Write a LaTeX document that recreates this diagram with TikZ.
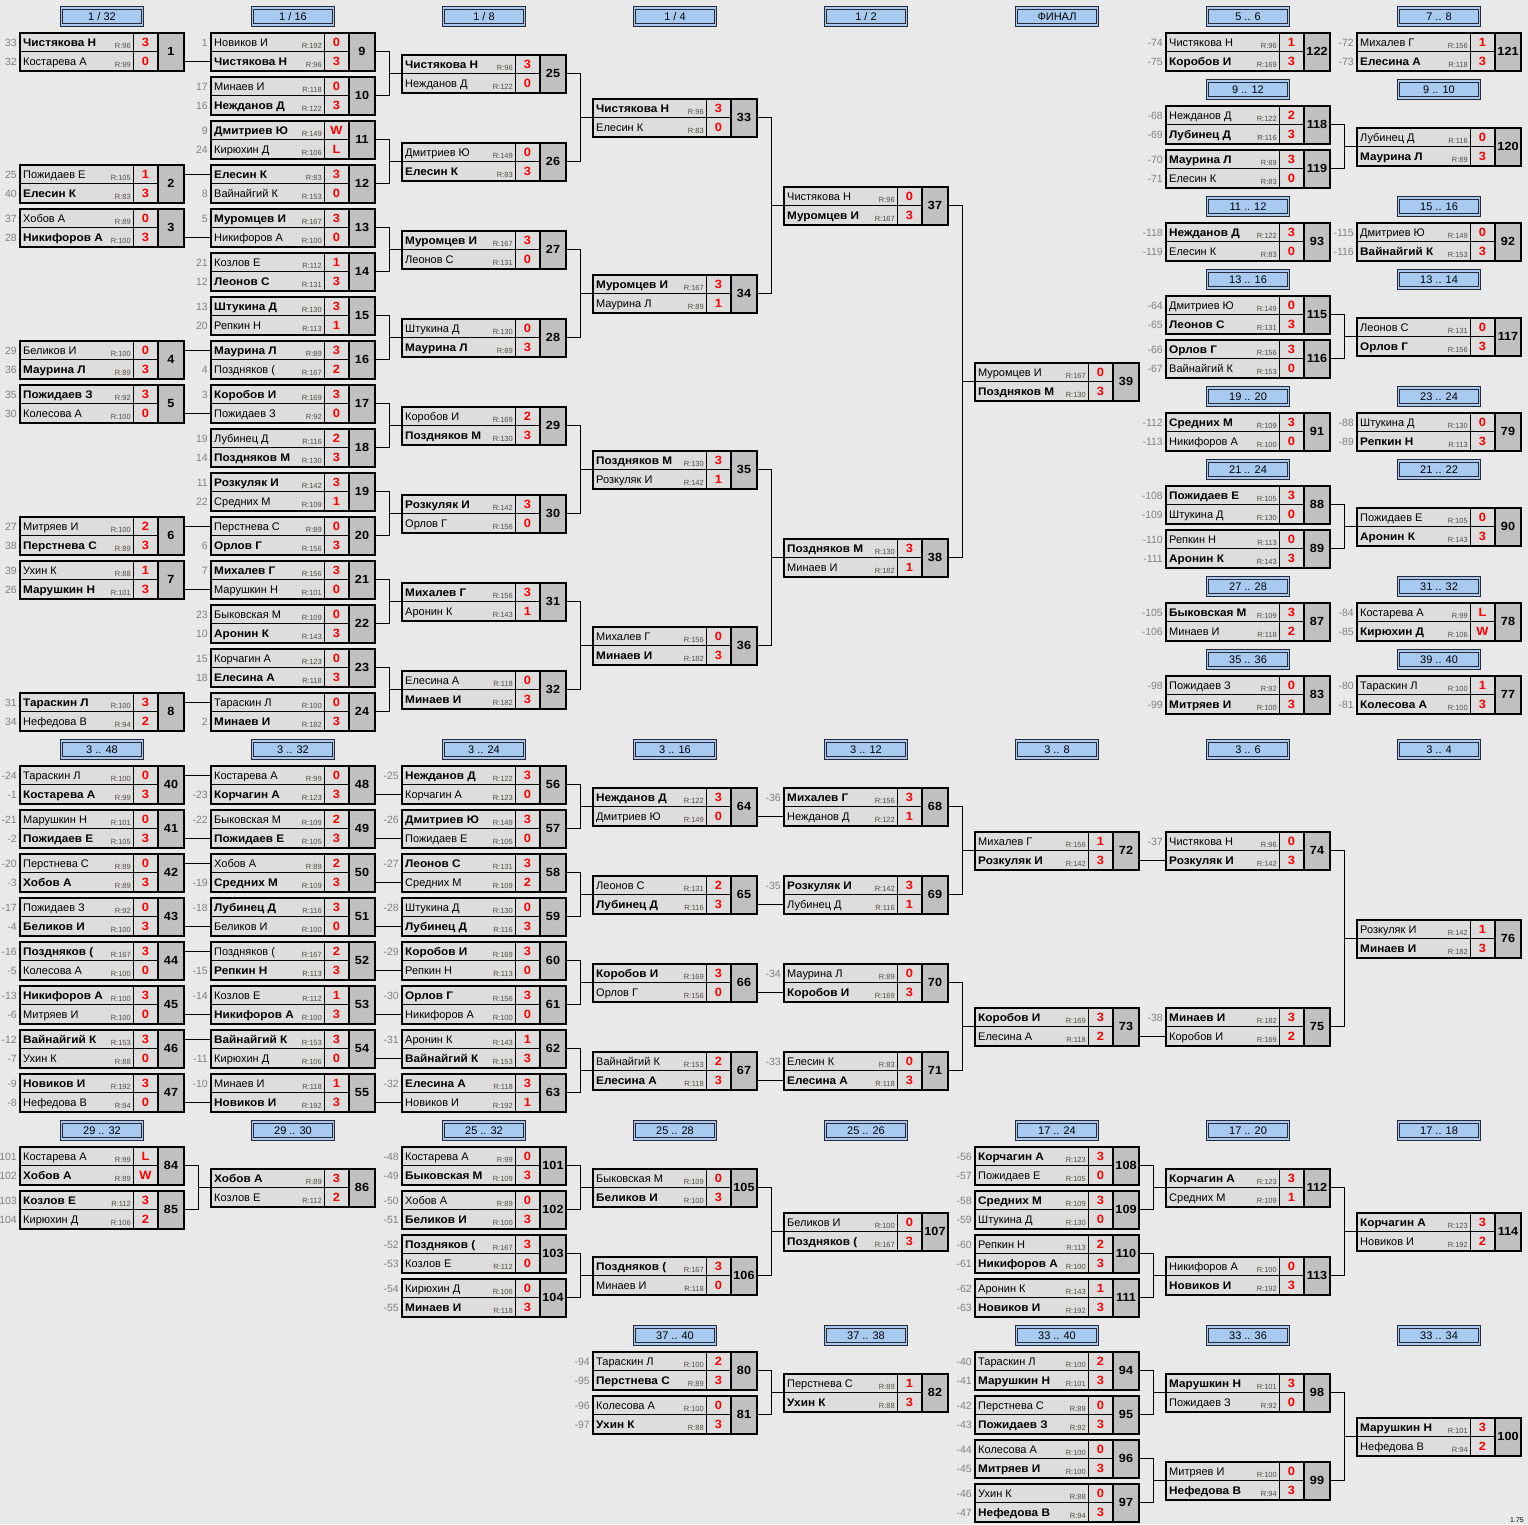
\documentclass[tikz,border=0pt]{standalone}
\usepackage{fontspec}
\setmainfont{Liberation Sans}[BoldFeatures={FakeStretch=1.07}]
\usetikzlibrary{calc}
\definecolor{bg}{RGB}{233,233,233}
\definecolor{cellc}{RGB}{221,221,221}
\definecolor{numc}{RGB}{192,192,192}
\definecolor{hdrc}{RGB}{168,202,240}
\definecolor{hdrl}{RGB}{40,40,55}
\definecolor{seedc}{RGB}{128,128,128}
\definecolor{ratc}{RGB}{85,78,65}
\definecolor{scc}{RGB}{255,0,0}
\newcommand\fnm{\fontsize{11}{13}\selectfont}
\newcommand\fsd{\fontsize{10.5}{12}\selectfont}
\newcommand\frt{\fontsize{7.5}{9}\selectfont}
\newcommand\fsc{\fontsize{12}{14}\selectfont\bfseries}
\newcommand\fnb{\fontsize{11.8}{14}\selectfont\bfseries}
\tikzset{
  namec/.style={draw=black, line width=0.8, fill=cellc, minimum width=113, minimum height=19, inner sep=0, outer sep=0, anchor=north west},
  scorec/.style={namec, minimum width=25},
  numbox/.style={draw=black, line width=2, fill=numc, minimum width=26, minimum height=38, inner sep=0, outer sep=0, anchor=north west, font=\fnb, text height=8.5, text depth=0},
  nametxt/.style={inner sep=0, anchor=base west, font=\fnm},
  rattxt/.style={inner sep=0, anchor=base east, font=\frt, text=ratc},
  sctxt/.style={inner sep=0, anchor=base, font=\fsc, text=scc},
  seedtxt/.style={inner sep=0, anchor=base east, font=\fsd, text=seedc},
  hdr/.style={draw=hdrl, line width=0.9, double=hdrc, double distance=1.3, fill=hdrc, minimum width=81, minimum height=17, inner sep=0, font=\fnm, text height=8, text depth=0},
  conn/.style={draw=black, line width=1},
}
\newcommand\MM[4]{\def\mn{#1}\def\mx{#2}\def\my{#3}%
  \ifnum#4=1 \def\fa{\bfseries}\def\fb{}\else\def\fa{}\def\fb{\bfseries}\fi\MMrest}
\newcommand\MMrest[8]{%
  \node[namec] (m\mn a) at (\mx,\my-9.5) {};
  \node[namec] (m\mn b) at (\mx,\my+9.5) {};
  \node[scorec] (m\mn sa) at (\mx+113,\my-9.5) {};
  \node[scorec] (m\mn sb) at (\mx+113,\my+9.5) {};
  \draw[line width=2] (m\mn a.north west) rectangle (m\mn sb.south east);
  \node[numbox] (m\mn) at (\mx+138,\my-9.5) {\mn};
  \node[nametxt] (m\mn na) at (\mx+3,\my+4) {\fa #2};
  \node[nametxt] (m\mn nb) at (\mx+3,\my+23) {\fb #6};
  \node[rattxt] (m\mn ra) at (\mx+111,\my+6.5) {R:#3};
  \node[rattxt] (m\mn rb) at (\mx+111,\my+25.5) {R:#7};
  \node[sctxt] (m\mn ca) at (\mx+125.5,\my+4.2) {#4};
  \node[sctxt] (m\mn cb) at (\mx+125.5,\my+23.2) {#8};
  \def\tmpa{#1}\ifx\tmpa\empty\else\node[seedtxt] (m\mn da) at (\mx-3,\my+4) {#1};\fi
  \def\tmpb{#5}\ifx\tmpb\empty\else\node[seedtxt] (m\mn db) at (\mx-3,\my+23) {#5};\fi
}
\newcommand\Hdr[4]{\node[hdr] (#1) at (#2+82,#3) {#4};}
\newcommand\conS[2]{\draw[conn] (m#1.east |- m#2.west) -- (m#2.west);}
\newcommand\conF[3]{\draw[conn] (m#1.east) -- ++(14,0) coordinate (f#1) |- (m#2.east);
  \draw[conn] (f#1 |- m#3a.south west) -- (m#3a.south west);}
\begin{document}
\begin{tikzpicture}[x=1pt,y=-1pt]
\fill[bg] (0,0) rectangle (1528,1524);
\useasboundingbox (0,0) rectangle (1528,1524);
% headers
\Hdr{h1}{20}{16.5}{1 / 32}
\Hdr{h2}{211}{16.5}{1 / 16}
\Hdr{h3}{402}{16.5}{1 / 8}
\Hdr{h4}{593}{16.5}{1 / 4}
\Hdr{h5}{784}{16.5}{1 / 2}
\Hdr{h6}{975}{16.5}{ФИНАЛ}
\Hdr{h7}{1166}{16.5}{5 .. 6}
\Hdr{h8}{1357}{16.5}{7 .. 8}
\Hdr{h9}{1166}{89.5}{9 .. 12}
\Hdr{h10}{1357}{89.5}{9 .. 10}
\Hdr{h11}{1166}{206.5}{11 .. 12}
\Hdr{h12}{1357}{206.5}{15 .. 16}
\Hdr{h13}{1166}{279.5}{13 .. 16}
\Hdr{h14}{1357}{279.5}{13 .. 14}
\Hdr{h15}{1166}{396.5}{19 .. 20}
\Hdr{h16}{1357}{396.5}{23 .. 24}
\Hdr{h17}{1166}{469.5}{21 .. 24}
\Hdr{h18}{1357}{469.5}{21 .. 22}
\Hdr{h19}{1166}{586.5}{27 .. 28}
\Hdr{h20}{1357}{586.5}{31 .. 32}
\Hdr{h21}{1166}{659.5}{35 .. 36}
\Hdr{h22}{1357}{659.5}{39 .. 40}
\Hdr{h23}{20}{749.5}{3 .. 48}
\Hdr{h24}{211}{749.5}{3 .. 32}
\Hdr{h25}{402}{749.5}{3 .. 24}
\Hdr{h26}{593}{749.5}{3 .. 16}
\Hdr{h27}{784}{749.5}{3 .. 12}
\Hdr{h28}{975}{749.5}{3 .. 8}
\Hdr{h29}{1166}{749.5}{3 .. 6}
\Hdr{h30}{1357}{749.5}{3 .. 4}
\Hdr{h31}{20}{1130.5}{29 .. 32}
\Hdr{h32}{211}{1130.5}{29 .. 30}
\Hdr{h33}{402}{1130.5}{25 .. 32}
\Hdr{h34}{593}{1130.5}{25 .. 28}
\Hdr{h35}{784}{1130.5}{25 .. 26}
\Hdr{h36}{975}{1130.5}{17 .. 24}
\Hdr{h37}{1166}{1130.5}{17 .. 20}
\Hdr{h38}{1357}{1130.5}{17 .. 18}
\Hdr{h39}{593}{1335.5}{37 .. 40}
\Hdr{h40}{784}{1335.5}{37 .. 38}
\Hdr{h41}{975}{1335.5}{33 .. 40}
\Hdr{h42}{1166}{1335.5}{33 .. 36}
\Hdr{h43}{1357}{1335.5}{33 .. 34}
% top main bracket
\MM{1}{20}{42}{1}{33}{Чистякова Н}{96}{3}{32}{Костарева А}{99}{0}
\MM{2}{20}{174}{2}{25}{Пожидаев Е}{105}{1}{40}{Елесин К}{83}{3}
\MM{3}{20}{218}{2}{37}{Хобов А}{89}{0}{28}{Никифоров А}{100}{3}
\MM{4}{20}{350}{2}{29}{Беликов И}{100}{0}{36}{Маурина Л}{89}{3}
\MM{5}{20}{394}{1}{35}{Пожидаев З}{92}{3}{30}{Колесова А}{100}{0}
\MM{6}{20}{526}{2}{27}{Митряев И}{100}{2}{38}{Перстнева С}{89}{3}
\MM{7}{20}{570}{2}{39}{Ухин К}{88}{1}{26}{Марушкин Н}{101}{3}
\MM{8}{20}{702}{1}{31}{Тараскин Л}{100}{3}{34}{Нефедова В}{94}{2}
\MM{9}{211}{42}{2}{1}{Новиков И}{192}{0}{}{Чистякова Н}{96}{3}
\MM{10}{211}{86}{2}{17}{Минаев И}{118}{0}{16}{Нежданов Д}{122}{3}
\MM{11}{211}{130}{1}{9}{Дмитриев Ю}{149}{W}{24}{Кирюхин Д}{106}{L}
\MM{12}{211}{174}{1}{}{Елесин К}{83}{3}{8}{Вайнайгий К}{153}{0}
\MM{13}{211}{218}{1}{5}{Муромцев И}{167}{3}{}{Никифоров А}{100}{0}
\MM{14}{211}{262}{2}{21}{Козлов Е}{112}{1}{12}{Леонов С}{131}{3}
\MM{15}{211}{306}{1}{13}{Штукина Д}{130}{3}{20}{Репкин Н}{113}{1}
\MM{16}{211}{350}{1}{}{Маурина Л}{89}{3}{4}{Поздняков (}{167}{2}
\MM{17}{211}{394}{1}{3}{Коробов И}{169}{3}{}{Пожидаев З}{92}{0}
\MM{18}{211}{438}{2}{19}{Лубинец Д}{116}{2}{14}{Поздняков М}{130}{3}
\MM{19}{211}{482}{1}{11}{Розкуляк И}{142}{3}{22}{Средних М}{109}{1}
\MM{20}{211}{526}{2}{}{Перстнева С}{89}{0}{6}{Орлов Г}{156}{3}
\MM{21}{211}{570}{1}{7}{Михалев Г}{156}{3}{}{Марушкин Н}{101}{0}
\MM{22}{211}{614}{2}{23}{Быковская М}{109}{0}{10}{Аронин К}{143}{3}
\MM{23}{211}{658}{2}{15}{Корчагин А}{123}{0}{18}{Елесина А}{118}{3}
\MM{24}{211}{702}{2}{}{Тараскин Л}{100}{0}{2}{Минаев И}{182}{3}
\MM{25}{402}{64}{1}{}{Чистякова Н}{96}{3}{}{Нежданов Д}{122}{0}
\MM{26}{402}{152}{2}{}{Дмитриев Ю}{149}{0}{}{Елесин К}{83}{3}
\MM{27}{402}{240}{1}{}{Муромцев И}{167}{3}{}{Леонов С}{131}{0}
\MM{28}{402}{328}{2}{}{Штукина Д}{130}{0}{}{Маурина Л}{89}{3}
\MM{29}{402}{416}{2}{}{Коробов И}{169}{2}{}{Поздняков М}{130}{3}
\MM{30}{402}{504}{1}{}{Розкуляк И}{142}{3}{}{Орлов Г}{156}{0}
\MM{31}{402}{592}{1}{}{Михалев Г}{156}{3}{}{Аронин К}{143}{1}
\MM{32}{402}{680}{2}{}{Елесина А}{118}{0}{}{Минаев И}{182}{3}
\MM{33}{593}{108}{1}{}{Чистякова Н}{96}{3}{}{Елесин К}{83}{0}
\MM{34}{593}{284}{1}{}{Муромцев И}{167}{3}{}{Маурина Л}{89}{1}
\MM{35}{593}{460}{1}{}{Поздняков М}{130}{3}{}{Розкуляк И}{142}{1}
\MM{36}{593}{636}{2}{}{Михалев Г}{156}{0}{}{Минаев И}{182}{3}
\MM{37}{784}{196}{2}{}{Чистякова Н}{96}{0}{}{Муромцев И}{167}{3}
\MM{38}{784}{548}{1}{}{Поздняков М}{130}{3}{}{Минаев И}{182}{1}
\MM{39}{975}{372}{2}{}{Муромцев И}{167}{0}{}{Поздняков М}{130}{3}
% top right
\MM{122}{1166}{42}{2}{-74}{Чистякова Н}{96}{1}{-75}{Коробов И}{169}{3}
\MM{118}{1166}{115}{2}{-68}{Нежданов Д}{122}{2}{-69}{Лубинец Д}{116}{3}
\MM{119}{1166}{159}{1}{-70}{Маурина Л}{89}{3}{-71}{Елесин К}{83}{0}
\MM{93}{1166}{232}{1}{-118}{Нежданов Д}{122}{3}{-119}{Елесин К}{83}{0}
\MM{115}{1166}{305}{2}{-64}{Дмитриев Ю}{149}{0}{-65}{Леонов С}{131}{3}
\MM{116}{1166}{349}{1}{-66}{Орлов Г}{156}{3}{-67}{Вайнайгий К}{153}{0}
\MM{91}{1166}{422}{1}{-112}{Средних М}{109}{3}{-113}{Никифоров А}{100}{0}
\MM{88}{1166}{495}{1}{-108}{Пожидаев Е}{105}{3}{-109}{Штукина Д}{130}{0}
\MM{89}{1166}{539}{2}{-110}{Репкин Н}{113}{0}{-111}{Аронин К}{143}{3}
\MM{87}{1166}{612}{1}{-105}{Быковская М}{109}{3}{-106}{Минаев И}{118}{2}
\MM{83}{1166}{685}{2}{-98}{Пожидаев З}{92}{0}{-99}{Митряев И}{100}{3}
\MM{121}{1357}{42}{2}{-72}{Михалев Г}{156}{1}{-73}{Елесина А}{118}{3}
\MM{120}{1357}{137}{2}{}{Лубинец Д}{116}{0}{}{Маурина Л}{89}{3}
\MM{92}{1357}{232}{2}{-115}{Дмитриев Ю}{149}{0}{-116}{Вайнайгий К}{153}{3}
\MM{117}{1357}{327}{2}{}{Леонов С}{131}{0}{}{Орлов Г}{156}{3}
\MM{79}{1357}{422}{2}{-88}{Штукина Д}{130}{0}{-89}{Репкин Н}{113}{3}
\MM{90}{1357}{517}{2}{}{Пожидаев Е}{105}{0}{}{Аронин К}{143}{3}
\MM{78}{1357}{612}{2}{-84}{Костарева А}{99}{L}{-85}{Кирюхин Д}{106}{W}
\MM{77}{1357}{685}{2}{-80}{Тараскин Л}{100}{1}{-81}{Колесова А}{100}{3}
% middle
\MM{40}{20}{775}{2}{-24}{Тараскин Л}{100}{0}{-1}{Костарева А}{99}{3}
\MM{41}{20}{819}{2}{-21}{Марушкин Н}{101}{0}{-2}{Пожидаев Е}{105}{3}
\MM{42}{20}{863}{2}{-20}{Перстнева С}{89}{0}{-3}{Хобов А}{89}{3}
\MM{43}{20}{907}{2}{-17}{Пожидаев З}{92}{0}{-4}{Беликов И}{100}{3}
\MM{44}{20}{951}{1}{-16}{Поздняков (}{167}{3}{-5}{Колесова А}{100}{0}
\MM{45}{20}{995}{1}{-13}{Никифоров А}{100}{3}{-6}{Митряев И}{100}{0}
\MM{46}{20}{1039}{1}{-12}{Вайнайгий К}{153}{3}{-7}{Ухин К}{88}{0}
\MM{47}{20}{1083}{1}{-9}{Новиков И}{192}{3}{-8}{Нефедова В}{94}{0}
\MM{48}{211}{775}{2}{}{Костарева А}{99}{0}{-23}{Корчагин А}{123}{3}
\MM{49}{211}{819}{2}{-22}{Быковская М}{109}{2}{}{Пожидаев Е}{105}{3}
\MM{50}{211}{863}{2}{}{Хобов А}{89}{2}{-19}{Средних М}{109}{3}
\MM{51}{211}{907}{1}{-18}{Лубинец Д}{116}{3}{}{Беликов И}{100}{0}
\MM{52}{211}{951}{2}{}{Поздняков (}{167}{2}{-15}{Репкин Н}{113}{3}
\MM{53}{211}{995}{2}{-14}{Козлов Е}{112}{1}{}{Никифоров А}{100}{3}
\MM{54}{211}{1039}{1}{}{Вайнайгий К}{153}{3}{-11}{Кирюхин Д}{106}{0}
\MM{55}{211}{1083}{2}{-10}{Минаев И}{118}{1}{}{Новиков И}{192}{3}
\MM{56}{402}{775}{1}{-25}{Нежданов Д}{122}{3}{}{Корчагин А}{123}{0}
\MM{57}{402}{819}{1}{-26}{Дмитриев Ю}{149}{3}{}{Пожидаев Е}{105}{0}
\MM{58}{402}{863}{1}{-27}{Леонов С}{131}{3}{}{Средних М}{109}{2}
\MM{59}{402}{907}{2}{-28}{Штукина Д}{130}{0}{}{Лубинец Д}{116}{3}
\MM{60}{402}{951}{1}{-29}{Коробов И}{169}{3}{}{Репкин Н}{113}{0}
\MM{61}{402}{995}{1}{-30}{Орлов Г}{156}{3}{}{Никифоров А}{100}{0}
\MM{62}{402}{1039}{2}{-31}{Аронин К}{143}{1}{}{Вайнайгий К}{153}{3}
\MM{63}{402}{1083}{1}{-32}{Елесина А}{118}{3}{}{Новиков И}{192}{1}
\MM{64}{593}{797}{1}{}{Нежданов Д}{122}{3}{}{Дмитриев Ю}{149}{0}
\MM{65}{593}{885}{2}{}{Леонов С}{131}{2}{}{Лубинец Д}{116}{3}
\MM{66}{593}{973}{1}{}{Коробов И}{169}{3}{}{Орлов Г}{156}{0}
\MM{67}{593}{1061}{2}{}{Вайнайгий К}{153}{2}{}{Елесина А}{118}{3}
\MM{68}{784}{797}{1}{-36}{Михалев Г}{156}{3}{}{Нежданов Д}{122}{1}
\MM{69}{784}{885}{1}{-35}{Розкуляк И}{142}{3}{}{Лубинец Д}{116}{1}
\MM{70}{784}{973}{2}{-34}{Маурина Л}{89}{0}{}{Коробов И}{169}{3}
\MM{71}{784}{1061}{2}{-33}{Елесин К}{83}{0}{}{Елесина А}{118}{3}
\MM{72}{975}{841}{2}{}{Михалев Г}{156}{1}{}{Розкуляк И}{142}{3}
\MM{73}{975}{1017}{1}{}{Коробов И}{169}{3}{}{Елесина А}{118}{2}
\MM{74}{1166}{841}{2}{-37}{Чистякова Н}{96}{0}{}{Розкуляк И}{142}{3}
\MM{75}{1166}{1017}{1}{-38}{Минаев И}{182}{3}{}{Коробов И}{169}{2}
\MM{76}{1357}{929}{2}{}{Розкуляк И}{142}{1}{}{Минаев И}{182}{3}
% bottom
\MM{84}{20}{1156}{2}{101}{Костарева А}{99}{L}{102}{Хобов А}{89}{W}
\MM{85}{20}{1200}{1}{103}{Козлов Е}{112}{3}{104}{Кирюхин Д}{106}{2}
\MM{86}{211}{1178}{1}{}{Хобов А}{89}{3}{}{Козлов Е}{112}{2}
\MM{101}{402}{1156}{2}{-48}{Костарева А}{99}{0}{-49}{Быковская М}{109}{3}
\MM{102}{402}{1200}{2}{-50}{Хобов А}{89}{0}{-51}{Беликов И}{100}{3}
\MM{103}{402}{1244}{1}{-52}{Поздняков (}{167}{3}{-53}{Козлов Е}{112}{0}
\MM{104}{402}{1288}{2}{-54}{Кирюхин Д}{106}{0}{-55}{Минаев И}{118}{3}
\MM{105}{593}{1178}{2}{}{Быковская М}{109}{0}{}{Беликов И}{100}{3}
\MM{106}{593}{1266}{1}{}{Поздняков (}{167}{3}{}{Минаев И}{118}{0}
\MM{107}{784}{1222}{2}{}{Беликов И}{100}{0}{}{Поздняков (}{167}{3}
\MM{108}{975}{1156}{1}{-56}{Корчагин А}{123}{3}{-57}{Пожидаев Е}{105}{0}
\MM{109}{975}{1200}{1}{-58}{Средних М}{109}{3}{-59}{Штукина Д}{130}{0}
\MM{110}{975}{1244}{2}{-60}{Репкин Н}{113}{2}{-61}{Никифоров А}{100}{3}
\MM{111}{975}{1288}{2}{-62}{Аронин К}{143}{1}{-63}{Новиков И}{192}{3}
\MM{112}{1166}{1178}{1}{}{Корчагин А}{123}{3}{}{Средних М}{109}{1}
\MM{113}{1166}{1266}{2}{}{Никифоров А}{100}{0}{}{Новиков И}{192}{3}
\MM{114}{1357}{1222}{1}{}{Корчагин А}{123}{3}{}{Новиков И}{192}{2}
\MM{80}{593}{1361}{2}{-94}{Тараскин Л}{100}{2}{-95}{Перстнева С}{89}{3}
\MM{81}{593}{1405}{2}{-96}{Колесова А}{100}{0}{-97}{Ухин К}{88}{3}
\MM{82}{784}{1383}{2}{}{Перстнева С}{89}{1}{}{Ухин К}{88}{3}
\MM{94}{975}{1361}{2}{-40}{Тараскин Л}{100}{2}{-41}{Марушкин Н}{101}{3}
\MM{95}{975}{1405}{2}{-42}{Перстнева С}{89}{0}{-43}{Пожидаев З}{92}{3}
\MM{96}{975}{1449}{2}{-44}{Колесова А}{100}{0}{-45}{Митряев И}{100}{3}
\MM{97}{975}{1493}{2}{-46}{Ухин К}{88}{0}{-47}{Нефедова В}{94}{3}
\MM{98}{1166}{1383}{1}{}{Марушкин Н}{101}{3}{}{Пожидаев З}{92}{0}
\MM{99}{1166}{1471}{2}{}{Митряев И}{100}{0}{}{Нефедова В}{94}{3}
\MM{100}{1357}{1427}{1}{}{Марушкин Н}{101}{3}{}{Нефедова В}{94}{2}
% connectors
\conS{1}{9b}\conS{2}{12a}\conS{3}{13b}\conS{4}{16a}
\conS{5}{17b}\conS{6}{20a}\conS{7}{21b}\conS{8}{24a}
\conF{9}{10}{25}\conF{11}{12}{26}\conF{13}{14}{27}\conF{15}{16}{28}
\conF{17}{18}{29}\conF{19}{20}{30}\conF{21}{22}{31}\conF{23}{24}{32}
\conF{25}{26}{33}\conF{27}{28}{34}\conF{29}{30}{35}\conF{31}{32}{36}
\conF{33}{34}{37}\conF{35}{36}{38}\conF{37}{38}{39}
\conF{118}{119}{120}\conF{115}{116}{117}\conF{88}{89}{90}
\conS{40}{48a}\conS{41}{49b}\conS{42}{50a}\conS{43}{51b}
\conS{44}{52a}\conS{45}{53b}\conS{46}{54a}\conS{47}{55b}
\conS{48}{56b}\conS{49}{57b}\conS{50}{58b}\conS{51}{59b}
\conS{52}{60b}\conS{53}{61b}\conS{54}{62b}\conS{55}{63b}
\conF{56}{57}{64}\conF{58}{59}{65}\conF{60}{61}{66}\conF{62}{63}{67}
\conS{64}{68b}\conS{65}{69b}\conS{66}{70b}\conS{67}{71b}
\conF{68}{69}{72}\conF{70}{71}{73}
\conS{72}{74b}\conS{73}{75b}
\conF{74}{75}{76}
\conF{84}{85}{86}
\conF{101}{102}{105}\conF{103}{104}{106}\conF{105}{106}{107}
\conF{108}{109}{112}\conF{110}{111}{113}\conF{112}{113}{114}
\conF{80}{81}{82}
\conF{94}{95}{98}\conF{96}{97}{99}\conF{98}{99}{100}
\node[inner sep=0, anchor=base east, font=\fontsize{7}{8}\selectfont] (ver) at (1524,1522) {1.75};
\end{tikzpicture}
\end{document}
